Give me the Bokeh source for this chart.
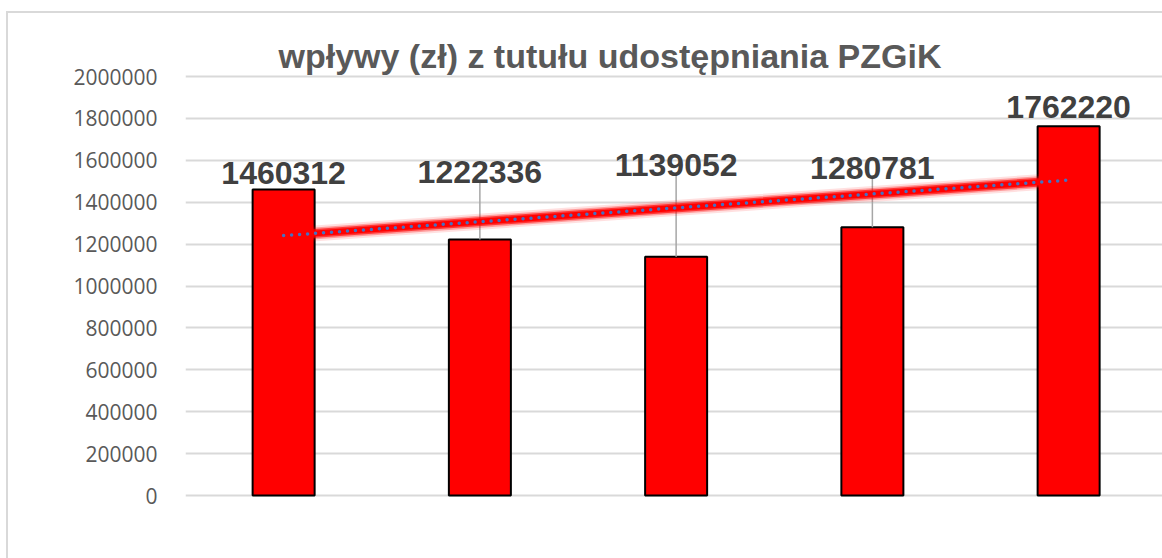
import numpy as np
from bokeh.plotting import figure
from bokeh.models import Range1d, FixedTicker, BasicTickFormatter, ColumnDataSource
from bokeh.embed import file_html
from bokeh.resources import INLINE
from bokeh.core.properties import value

# ---- data ----
title_text = "wpływy (zł) z tutułu udostępniania PZGiK"
categories = [1, 2, 3, 4, 5]
values = [1460312, 1222336, 1139052, 1280781, 1762220]
value_labels = [str(v) for v in values]
y_ticks = [0, 200000, 400000, 600000, 800000, 1000000, 1200000, 1400000, 1600000, 1800000, 2000000]

# label placement (pixels above bar top to text baseline) and leader-line flags
label_offset_px = [17, 67, 92, 59, 19]
has_leader = [False, True, True, True, False]

# ---- layout in pixels ----
canvas_w, canvas_h = 1154, 545
frame_left, frame_top, frame_bottom = 177, 61, 487
frame_w = canvas_w - frame_left
frame_h = frame_bottom - frame_top
cat_px = 196.25
axis_max = 2000000
px_per_unit = 419.0 / axis_max
pad_bottom_px = 5
pad_top_px = 2

x_start = 0.5
x_end = x_start + frame_w / cat_px
y_start = -pad_bottom_px / px_per_unit
y_end = axis_max + pad_top_px / px_per_unit

p = figure(
    frame_width=frame_w, frame_height=frame_h,
    x_range=Range1d(x_start, x_end), y_range=Range1d(y_start, y_end),
    output_backend="svg", toolbar_location=None,
    min_border_left=frame_left, min_border_top=frame_top,
    min_border_bottom=canvas_h - frame_bottom, min_border_right=0,
    background_fill_color="white", border_fill_color="white",
)
p.margin = (13, 0, 0, 8)
p.styles = {"box-shadow": "-1px -1px 0 1px #D9D9D9"}
p.outline_line_color = None

# title
p.title.text = title_text
p.title.text_font = "Liberation Sans"
p.title.text_font_size = "34px"
p.title.text_font_style = "bold"
p.title.text_color = "#595959"
p.title.align = "left"
p.title.offset = 93
p.title.standoff = 0

# axes
p.xaxis.visible = False
p.xgrid.visible = False
p.yaxis.ticker = FixedTicker(ticks=y_ticks)
p.yaxis.formatter = BasicTickFormatter(use_scientific=False)
p.yaxis.axis_line_color = None
p.yaxis.major_tick_line_color = None
p.yaxis.minor_tick_line_color = None
p.yaxis.major_label_text_font = "Open Sans"
p.yaxis.major_label_text_font_size = "21px"
p.yaxis.major_label_text_color = "#595959"
p.yaxis.major_label_standoff = 22
p.ygrid.ticker = FixedTicker(ticks=y_ticks)
p.ygrid.grid_line_color = "#D9D9D9"
p.ygrid.grid_line_width = 2

# bars
src = ColumnDataSource(dict(x=categories, top=values, label=value_labels,
                            ly=[v + o / px_per_unit for v, o in zip(values, label_offset_px)]))
p.vbar(x="x", top="top", width=0.316, source=src, fill_color="#FF0000",
       line_color="#000000", line_width=2)

# leader lines
lx = [c for c, f in zip(categories, has_leader) if f]
ly0 = [v for v, f in zip(values, has_leader) if f]
ly1 = [v + (o - 10) / px_per_unit for v, o, f in zip(values, label_offset_px, has_leader) if f]
p.segment(x0=lx, y0=ly0, x1=lx, y1=ly1, line_color="#A6A6A6", line_width=1.5)

# linear trendline with glow
coef = np.polyfit(categories, values, 1)
tx = [categories[0], categories[-1]]
ty = [float(np.polyval(coef, t)) for t in tx]
for w, a in [(16, 0.12), (12, 0.3), (9, 0.65), (6, 1.0)]:
    p.line(tx, ty, line_color="#FF0000", line_width=w, line_alpha=a, line_cap="round")
p.line(tx, ty, line_color="#4472C4", line_width=3.5, line_dash="0 8", line_cap="round")

# data labels
p.text(x="x", y="ly", text="label", source=src, text_align="center",
       text_baseline="alphabetic", text_font=value("Liberation Sans"),
       text_font_size="32px", text_font_style="bold", text_color="#404040")

open("out.html", "w").write(file_html(p, INLINE))
